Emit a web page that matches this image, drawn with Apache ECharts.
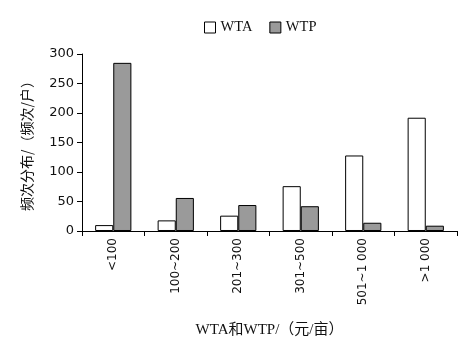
<!DOCTYPE html>
<html><head><meta charset="utf-8">
<script src="https://cdn.jsdelivr.net/npm/echarts@6/dist/echarts.min.js"></script>
<style>html,body{margin:0;padding:0;background:#fff}#c{width:475px;height:343px}</style>
</head><body><div id="c"></div>
<script>
var categories = ['<100', '100~200', '201~300', '301~500', '501~1 000', '>1 000'];
var wta = [10, 18, 26, 76, 128, 192];
var wtp = [285, 56, 44, 42, 14, 9];
var yTicks = [0, 50, 100, 150, 200, 250, 300];

var chart = echarts.init(document.getElementById('c'), null, {renderer: 'canvas'});
chart.setOption({
  animation: false,
  backgroundColor: '#fff',
  grid: {left: 82, right: 18, top: 54, bottom: 107},
  legend: {
    left: 199, top: 15, itemWidth: 11, itemHeight: 11, itemGap: 17,
    itemStyle: {borderWidth: 1},
    textStyle: {fontFamily: 'Liberation Serif', fontSize: 14.5, color: '#111'},
    data: [{name: 'WTA', icon: 'rect'}, {name: 'WTP', icon: 'rect'}]
  },
  xAxis: {
    type: 'category',
    data: categories,
    name: 'WTA和WTP/（元/亩）',
    nameLocation: 'middle',
    nameGap: 92,
    nameTextStyle: {fontFamily: 'Liberation Serif, Noto Sans CJK SC', fontSize: 15, color: '#111'},
    axisLine: {lineStyle: {color: '#000', width: 1}},
    axisTick: {show: true, alignWithLabel: false, length: 5, lineStyle: {color: '#000'}},
    axisLabel: {rotate: 90, margin: 7, fontFamily: 'DejaVu Sans', fontSize: 12, color: '#111', interval: 0}
  },
  yAxis: {
    type: 'value',
    min: 0, max: 300, interval: 50,
    name: '频次分布/（频次/户）',
    nameLocation: 'middle',
    nameGap: 48,
    nameRotate: 90,
    nameTextStyle: {fontFamily: 'Noto Sans CJK SC', fontSize: 14, color: '#111'},
    axisLine: {show: true, lineStyle: {color: '#000', width: 1}},
    axisTick: {show: true, length: 5, lineStyle: {color: '#000'}},
    splitLine: {show: false},
    axisLabel: {margin: 8, fontFamily: 'DejaVu Sans', fontSize: 13, color: '#111',
      formatter: function (v) { return yTicks.indexOf(v) >= 0 ? String(v) : ''; }}
  },
  series: [
    {name: 'WTA', type: 'bar', data: wta, barGap: '0%', barCategoryGap: '42%',
     itemStyle: {color: '#fff', borderColor: '#000', borderWidth: 1}},
    {name: 'WTP', type: 'bar', data: wtp, barGap: '0%', barCategoryGap: '42%',
     itemStyle: {color: '#9a9a9a', borderColor: '#000', borderWidth: 1}}
  ]
});
</script></body></html>
